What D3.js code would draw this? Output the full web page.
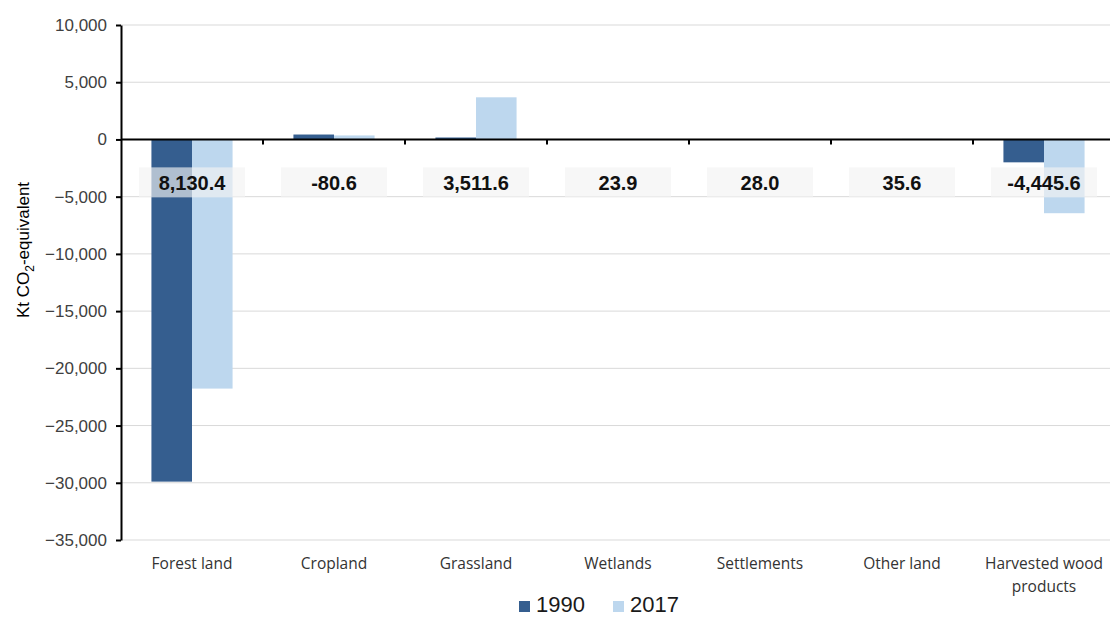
<!DOCTYPE html>
<html>
<head>
<meta charset="utf-8">
<script src="https://cdn.jsdelivr.net/npm/d3@7"></script>
<style>
  body { margin: 0; background: #fff; }
  svg text { font-family: Arial, "Liberation Sans", sans-serif; }
</style>
</head>
<body>
<div id="chart"></div>
<script>
const categories = ["Forest land", "Cropland", "Grassland", "Wetlands", "Settlements", "Other land", "Harvested wood products"];
const values1990 = [-29900, 430, 170, 20, 10, 15, -2000];
const values2017 = [-21769.6, 349.4, 3681.6, 43.9, 38, 50.6, -6445.6];
const changeLabels = ["8,130.4", "-80.6", "3,511.6", "23.9", "28.0", "35.6", "-4,445.6"];
const years = ["1990", "2017"];
const yTicks = [10000, 5000, 0, -5000, -10000, -15000, -20000, -25000, -30000, -35000];

const W = 1110, H = 617;
const plot = { left: 121, right: 1115, top: 25, bottom: 540 };
const colors = { "1990": "#355e8f", "2017": "#bdd7ee" };

const svg = d3.select("#chart").append("svg")
    .attr("width", W)
    .attr("height", H);

const x = d3.scaleBand().domain(categories).range([plot.left, plot.right]).paddingInner(0).paddingOuter(0);
const xInner = d3.scaleBand().domain(years).range([0, x.bandwidth()]).paddingInner(0).paddingOuter(0.75);
const y = d3.scaleLinear().domain([-35000, 10000]).range([plot.bottom, plot.top]);

// gridlines
svg.append("g")
    .selectAll("line")
    .data(yTicks)
    .enter()
    .append("line")
    .attr("x1", plot.left)
    .attr("x2", plot.right)
    .attr("y1", d => y(d))
    .attr("y2", d => y(d))
    .attr("stroke", "#d9d9d9")
    .attr("stroke-width", 1);

// bars
const rows = categories.map((c, i) => ({ cat: c, vals: [
    { year: "1990", v: values1990[i] },
    { year: "2017", v: values2017[i] }
] }));

const groups = svg.append("g")
    .selectAll("g")
    .data(rows)
    .enter()
    .append("g")
    .attr("transform", d => `translate(${x(d.cat)},0)`);

groups.selectAll("rect")
    .data(d => d.vals)
    .enter()
    .append("rect")
    .attr("x", d => xInner(d.year))
    .attr("width", xInner.bandwidth())
    .attr("y", d => y(Math.max(0, d.v)))
    .attr("height", d => Math.abs(y(d.v) - y(0)))
    .attr("fill", d => colors[d.year]);

// y axis
const yAxis = svg.append("g")
    .attr("transform", `translate(${plot.left},0)`)
    .call(d3.axisLeft(y).tickValues(yTicks).tickSize(5).tickSizeOuter(0).tickFormat(d3.format(",")));
yAxis.select(".domain").attr("stroke", "#000").attr("stroke-width", 2);
yAxis.selectAll(".tick line").attr("stroke", "#000").attr("stroke-width", 2);
yAxis.selectAll(".tick text")
    .attr("x", -14)
    .attr("font-size", 17)
    .attr("fill", "#404040")
    .attr("font-family", "Arial, 'Liberation Sans', sans-serif");

// zero line with category ticks
const zeroAxis = svg.append("g")
    .attr("transform", `translate(0,${y(0)})`);
zeroAxis.append("line")
    .attr("x1", plot.left)
    .attr("x2", plot.right)
    .attr("stroke", "#000")
    .attr("stroke-width", 2);
zeroAxis.selectAll(".ctick")
    .data(categories.slice(1))
    .enter()
    .append("line")
    .attr("class", "ctick")
    .attr("x1", d => x(d))
    .attr("x2", d => x(d))
    .attr("y1", 0)
    .attr("y2", 5)
    .attr("stroke", "#000")
    .attr("stroke-width", 2);

// change labels
const lbl = svg.append("g")
    .selectAll("g")
    .data(categories)
    .enter()
    .append("g")
    .attr("transform", d => `translate(${x(d) + x.bandwidth() / 2},${y(-3750)})`);
lbl.append("rect")
    .attr("x", -53)
    .attr("y", -15)
    .attr("width", 106)
    .attr("height", 30)
    .attr("fill", "#f2f2f2")
    .attr("fill-opacity", 0.65);
lbl.append("text")
    .attr("text-anchor", "middle")
    .attr("dy", "0.36em")
    .attr("font-size", 20)
    .attr("font-weight", "bold")
    .attr("fill", "#111")
    .text((d, i) => changeLabels[i]);

// category labels
const catLabels = svg.append("g")
    .selectAll("text")
    .data(categories)
    .enter()
    .append("text")
    .attr("text-anchor", "middle")
    .attr("font-size", 15.5)
    .attr("fill", "#333")
    .style("font-family", "'Open Sans', 'Noto Sans', sans-serif")
    .attr("transform", d => `translate(${x(d) + x.bandwidth() / 2},569)`);
catLabels.each(function (d) {
    const t = d3.select(this);
    const lines = d === "Harvested wood products" ? ["Harvested wood", "products"] : [d];
    lines.forEach((l, i) => {
        t.append("tspan").attr("x", 0).attr("dy", i === 0 ? 0 : 23).text(l);
    });
});

// y title
const yTitle = svg.append("text")
    .attr("transform", `translate(29,250) rotate(-90)`)
    .attr("text-anchor", "middle")
    .attr("font-size", 17)
    .attr("fill", "#000");
yTitle.append("tspan").text("Kt CO");
yTitle.append("tspan").attr("font-size", 12).attr("dy", 5).text("2");
yTitle.append("tspan").attr("dy", -5).text("-equivalent");

// legend
const legend = svg.append("g")
    .selectAll("g")
    .data(years)
    .enter()
    .append("g")
    .attr("transform", (d, i) => `translate(${519 + i * 94},0)`);
legend.append("rect")
    .attr("x", 0)
    .attr("y", 601)
    .attr("width", 11)
    .attr("height", 11)
    .attr("fill", d => colors[d]);
legend.append("text")
    .attr("x", 17)
    .attr("y", 612)
    .attr("font-size", 22)
    .attr("fill", "#1a1a1a")
    .text(d => d);
</script>
</body>
</html>
